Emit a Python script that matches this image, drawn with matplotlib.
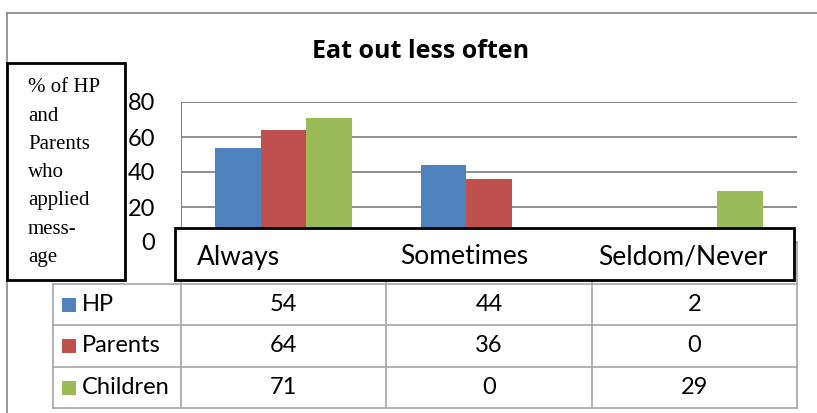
import numpy as np
import matplotlib
matplotlib.use("Agg")
import matplotlib.pyplot as plt
from matplotlib.patches import Rectangle

# data
categories = ["Always", "Sometimes", "Seldom/Never"]
series_names = ["HP", "Parents", "Children"]
hp = [54, 44, 2]
parents = [64, 36, 0]
children = [71, 0, 29]
colors = ["#4F81BD", "#C0504D", "#9BBB59"]
yticks = [0, 20, 40, 60, 80]
ylabel_lines = ["% of HP", "and", "Parents", "who", "applied", "mess-", "age"]
title = "Eat out less often"

W, H = 817, 413
SANS = "Lato"
GRID = "#868686"
TABLE = "#A6A6A6"

fig = plt.figure(figsize=(W / 100, H / 100), dpi=100)

# plot area in pixel coords
px_l, px_r, px_t, px_b = 181, 797, 102, 242
ax = fig.add_axes([px_l / W, 1 - px_b / H, (px_r - px_l) / W, (px_b - px_t) / H])

x = np.arange(len(categories))
bw = 0.222
for i, (vals, c) in enumerate(zip([hp, parents, children], colors)):
    ax.bar(x + (i - 1) * bw, vals, width=bw, color=c, zorder=3)

ax.set_xlim(-0.5, len(categories) - 0.5)
ax.set_ylim(0, 80)
ax.set_yticks(yticks)
ax.set_yticklabels([str(t) for t in yticks], fontsize=17, family=SANS)
ax.set_xticks([])
ax.tick_params(axis="y", length=0, pad=18.5)
ax.yaxis.grid(True, color=GRID, lw=1.3, zorder=0)
for s in ["top", "right"]:
    ax.spines[s].set_visible(False)
ax.spines["left"].set_color(GRID)
ax.spines["bottom"].set_color(GRID)
ax.set_facecolor("none")

# overlay in pixel coordinates for borders, boxes and data table
ov = fig.add_axes([0, 0, 1, 1])
ov.set_xlim(0, W)
ov.set_ylim(H, 0)
ov.axis("off")
ov.set_zorder(5)

# chart outer border
ov.plot([7, W], [13, 13], color=GRID, lw=1.2)
ov.plot([7, 7], [13, H], color=GRID, lw=1.2)

ov.text(421, 51, title, ha="center", va="center", fontsize=18,
        fontweight="bold", family="Open Sans")

# y label box
ov.add_patch(Rectangle((7, 63), 118, 217, facecolor="white", edgecolor="black",
                       lw=2, zorder=4))
for k, line in enumerate(ylabel_lines):
    ov.text(28, 88 + k * 28.2, line, ha="left", va="center", fontsize=15,
            family="Liberation Serif", zorder=5)

# data table
col_edges = [px_l + (px_r - px_l) * j / 3 for j in range(4)]
row_lines = [284, 325, 367, 408]
for y in row_lines:
    ov.plot([53, px_r], [y, y], color=TABLE, lw=1.2, zorder=1)
ov.plot([53, 53], [284, 408], color=TABLE, lw=1.2, zorder=1)
for xe in col_edges:
    ov.plot([xe, xe], [242, 408], color=TABLE, lw=1.2, zorder=1)

for r, (name, vals, c) in enumerate(zip(series_names, [hp, parents, children], colors)):
    yc = (row_lines[r] + row_lines[r + 1]) / 2
    ov.add_patch(Rectangle((62, yc - 7), 14, 14, facecolor=c, edgecolor="none"))
    ov.text(82, yc, name, ha="left", va="center", fontsize=17, family=SANS)
    for j, v in enumerate(vals):
        ov.text((col_edges[j] + col_edges[j + 1]) / 2, yc, str(v),
                ha="center", va="center", fontsize=17, family=SANS)

# category label box
ov.add_patch(Rectangle((175, 228), 619, 52, facecolor="white", edgecolor="black",
                       lw=2, zorder=4))
for xl, cat in zip([197, 400, 598], categories):
    ov.text(xl, 257, cat, ha="left", va="center", fontsize=19, family=SANS, zorder=5)

fig.savefig("out.png", dpi=100)
